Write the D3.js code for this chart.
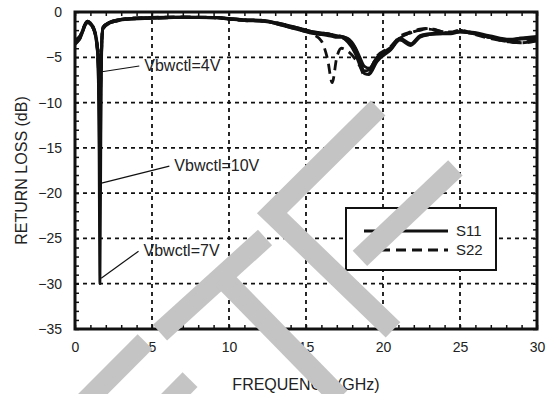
<!DOCTYPE html>
<html lang="en">
<head>
  <meta charset="utf-8">
  <title>Return loss vs frequency</title>
  <script src="https://d3js.org/d3.v7.min.js"></script>
  <style>
    body { margin: 0; background: #fff; }
    text { font-family: "Liberation Sans", Arial, sans-serif; fill: #222; }
  </style>
</head>
<body>
<div id="chart"></div>
<script>
  // frequency points (GHz) shared by every trace
  const freq = [0, 0.3, 0.8, 1.2, 1.45, 1.55, 1.62, 1.7, 1.8, 2.3, 2.7, 3.4, 5, 7, 9, 10, 11, 12, 12.7, 13.5,
    14.6, 15.5, 16, 16.4, 16.7, 17.0, 17.3, 17.7, 18.2, 18.5, 18.8, 19.1, 19.6, 20.5, 21.1, 21.8, 22.4, 23.0, 23.7,
    24.4, 25.0, 25.6, 26.9, 28.2, 28.9, 30];

  // return loss (dB)
  const s11_4V = [-3.1, -2.7, -1.0, -1.7, -3.6, -5.5, -7, -4.5, -1.7, -1.1, -0.9, -0.75, -0.6, -0.55, -0.6, -0.7, -0.85, -0.9, -1.05, -1.35,
    -1.8, -2.2, -2.3, -2.4, -2.5, -2.6, -2.7, -2.9, -3.9, -5.0, -6.0, -6.2, -5.0, -3.9, -2.9, -3.5, -2.6, -2.4, -2.3,
    -2.3, -2.2, -2.2, -2.6, -3.0, -2.9, -2.7];
  const s11_7V = [-3.3, -2.9, -1.1, -1.8, -4.0, -12, -30, -8, -1.8, -1.1, -0.9, -0.75, -0.65, -0.6, -0.6, -0.75, -0.9, -0.95, -1.1, -1.4,
    -1.9, -2.3, -2.4, -2.5, -2.6, -2.7, -2.7, -3.0, -4.3, -5.6, -6.5, -6.4, -5.2, -4.0, -3.0, -3.6, -2.7, -2.5, -2.4,
    -2.4, -2.2, -2.3, -2.7, -3.1, -2.9, -2.8];
  const s11_10V = [-3.5, -3.0, -1.2, -1.9, -4.3, -10, -19, -7, -1.9, -1.2, -1.0, -0.8, -0.7, -0.6, -0.65, -0.8, -0.95, -1.0, -1.15, -1.5,
    -2.0, -2.4, -2.5, -2.6, -2.7, -2.8, -2.8, -3.3, -4.6, -5.9, -6.8, -6.9, -5.5, -4.2, -3.1, -3.7, -2.8, -2.5, -2.4,
    -2.3, -2.2, -2.3, -2.8, -3.2, -3.0, -2.9];
  const s22_4V = [-3.2, -2.7, -1.0, -1.7, -3.6, -5, -6, -4, -1.7, -1.1, -0.9, -0.7, -0.6, -0.55, -0.6, -0.7, -0.85, -0.9, -1.05, -1.35,
    -1.8, -2.2, -2.3, -2.4, -2.5, -2.6, -2.7, -3.0, -4.0, -5.2, -6.2, -6.3, -4.9, -3.8, -2.7, -2.2, -1.9, -1.8, -2.1,
    -2.2, -2.0, -2.2, -2.8, -3.2, -3.3, -3.1];
  const s22_7V = [-3.4, -2.8, -1.1, -1.8, -4.0, -8, -12, -6, -1.8, -1.1, -0.9, -0.75, -0.65, -0.6, -0.6, -0.75, -0.9, -0.95, -1.1, -1.4,
    -1.9, -2.3, -2.4, -2.5, -2.6, -2.7, -2.8, -3.2, -4.4, -5.6, -6.6, -6.5, -5.0, -4.0, -2.8, -2.3, -2.0, -1.8, -2.1,
    -2.3, -2.1, -2.3, -2.8, -3.3, -3.4, -3.2];
  const s22_10V = [-3.6, -3.0, -1.2, -1.9, -4.2, -7, -10, -5.5, -1.9, -1.2, -1.0, -0.8, -0.7, -0.6, -0.65, -0.8, -0.95, -1.0, -1.15, -1.5,
    -2.0, -2.5, -3.2, -5.2, -7.8, -5.0, -4.0, -4.3, -5.2, -6.0, -7.0, -6.8, -5.3, -4.1, -2.9, -2.3, -2.0, -1.9, -2.2,
    -2.3, -2.0, -2.3, -2.9, -3.3, -3.4, -3.2];

  const xTicks = [0, 5, 10, 15, 20, 25, 30];
  const yTicks = [0, -5, -10, -15, -20, -25, -30, -35];
  const legendLabels = ["S11", "S22"];

  // voltage callouts: label anchor and the point on the dip it points to
  const callouts = [
    { text: "Vbwctl=4V", at: [4.5, -5.85], tip: [1.75, -6.6] },
    { text: "Vbwctl=10V", at: [6.45, -16.9], tip: [1.72, -18.9] },
    { text: "Vbwctl=7V", at: [4.45, -26.3], tip: [1.7, -29.4] }
  ];

  const traces = [
    { vals: s11_4V, type: "S11" }, { vals: s11_7V, type: "S11" }, { vals: s11_10V, type: "S11" },
    { vals: s22_4V, type: "S22" }, { vals: s22_7V, type: "S22" }, { vals: s22_10V, type: "S22" }
  ];

  const width = 547, height = 394;
  const margin = { top: 12, right: 10, bottom: 65, left: 75 };

  const svg = d3.select("#chart").append("svg")
    .attr("width", width)
    .attr("height", height);

  const x = d3.scaleLinear().domain([0, 30]).range([margin.left, width - margin.right]);
  const y = d3.scaleLinear().domain([-35, 0]).range([height - margin.bottom, margin.top]);

  // dashed grid
  svg.append("g").selectAll("line")
    .data(xTicks.slice(1, -1))
    .join("line")
    .attr("x1", d => x(d)).attr("x2", d => x(d))
    .attr("y1", y(0)).attr("y2", y(-35))
    .attr("stroke", "#111").attr("stroke-width", 1.8).attr("stroke-dasharray", "4,4");
  svg.append("g").selectAll("line")
    .data(yTicks.slice(1, -1))
    .join("line")
    .attr("x1", x(0)).attr("x2", x(30))
    .attr("y1", d => y(d)).attr("y2", d => y(d))
    .attr("stroke", "#111").attr("stroke-width", 1.8).attr("stroke-dasharray", "4,4");

  // minor ticks on all four sides, pointing inward
  const minor = (axis, sel) => sel.call(axis.tickFormat("").tickSizeOuter(0))
    .call(g => g.select(".domain").remove())
    .call(g => g.selectAll("line").attr("stroke", "#111").attr("stroke-width", 1.5));
  minor(d3.axisBottom(x).tickValues(d3.range(0, 31, 1)).tickSizeInner(-4),
    svg.append("g").attr("transform", `translate(0,${y(-35)})`));
  minor(d3.axisTop(x).tickValues(d3.range(0, 31, 1)).tickSizeInner(-4),
    svg.append("g").attr("transform", `translate(0,${y(0)})`));
  minor(d3.axisLeft(y).tickValues(d3.range(-35, 1, 1)).tickSizeInner(-4),
    svg.append("g").attr("transform", `translate(${x(0)},0)`));
  minor(d3.axisRight(y).tickValues(d3.range(-35, 1, 1)).tickSizeInner(-4),
    svg.append("g").attr("transform", `translate(${x(30)},0)`));

  // tick labels
  const xAxis = svg.append("g")
    .attr("transform", `translate(0,${y(-35)})`)
    .call(d3.axisBottom(x).tickValues(xTicks).tickSize(0).tickPadding(13));
  xAxis.select(".domain").remove();
  xAxis.selectAll("text").style("font-size", "14px").attr("fill", "#222");

  const yAxis = svg.append("g")
    .attr("transform", `translate(${x(0)},0)`)
    .call(d3.axisLeft(y).tickValues(yTicks).tickSize(0).tickPadding(13));
  yAxis.select(".domain").remove();
  yAxis.selectAll("text").style("font-size", "14px").attr("fill", "#222");

  // traces
  svg.append("clipPath").attr("id", "plot")
    .append("rect")
    .attr("x", x(0)).attr("y", y(0))
    .attr("width", x(30) - x(0)).attr("height", y(-35) - y(0));

  const line = d3.line()
    .x((d, i) => x(freq[i]))
    .y(d => y(d))
    .curve(d3.curveMonotoneX);

  svg.append("g").attr("clip-path", "url(#plot)")
    .selectAll("path")
    .data(traces)
    .join("path")
    .attr("d", d => line(d.vals))
    .attr("fill", "none")
    .attr("stroke", "#111")
    .attr("stroke-width", 2.8)
    .attr("stroke-linejoin", "round")
    .attr("stroke-dasharray", d => d.type === "S22" ? "10,6" : null);

  // frame
  svg.append("rect")
    .attr("x", x(0)).attr("y", y(0))
    .attr("width", x(30) - x(0)).attr("height", y(-35) - y(0))
    .attr("fill", "none").attr("stroke", "#111").attr("stroke-width", 3);

  // callouts
  callouts.forEach(c => {
    svg.append("line")
      .attr("x1", x(c.at[0]) - 5).attr("y1", y(c.at[1]) + 1)
      .attr("x2", x(c.tip[0])).attr("y2", y(c.tip[1]))
      .attr("stroke", "#111").attr("stroke-width", 1.2);
    svg.append("text")
      .attr("x", x(c.at[0])).attr("y", y(c.at[1]))
      .attr("dy", "0.35em")
      .style("font-size", "16px")
      .text(c.text);
  });

  // legend
  const legend = svg.append("g");
  legend.append("rect")
    .attr("x", 346).attr("y", 208)
    .attr("width", 150).attr("height", 62)
    .attr("fill", "#fff").attr("stroke", "#111").attr("stroke-width", 2);
  legendLabels.forEach((lab, i) => {
    legend.append("line")
      .attr("x1", 364).attr("x2", 448)
      .attr("y1", 231 + i * 19).attr("y2", 231 + i * 19)
      .attr("stroke", "#111").attr("stroke-width", 3)
      .attr("stroke-dasharray", lab === "S22" ? "10,6" : null);
    legend.append("text")
      .attr("x", 456).attr("y", 231 + i * 19)
      .attr("dy", "0.35em")
      .style("font-size", "15px")
      .text(lab);
  });

  // axis titles
  svg.append("text")
    .attr("x", (x(0) + x(30)) / 2).attr("y", 384)
    .attr("text-anchor", "middle").attr("dy", "0.35em")
    .style("font-size", "16px")
    .text("FREQUENCY (GHz)");
  svg.append("text")
    .attr("transform", `translate(21,${(y(0) + y(-35)) / 2}) rotate(-90)`)
    .attr("text-anchor", "middle").attr("dy", "0.35em")
    .style("font-size", "16px")
    .text("RETURN LOSS (dB)");

  // grey scan watermark, laid over the figure (in GHz / dB units)
  const watermark = [
    [[0.65, -43.05], [4.55, -36.4]],
    [[6.04, -43.05], [7.47, -40.6]],
    [[5.52, -35.4], [12.34, -24.9]],
    [[9.55, -29.3], [17.2, -42.6]],
    [[19.68, -10.6], [12.79, -22.2], [20.65, -35.1]],
    [[24.7, -17.2], [18.5, -27.2]]
  ];
  svg.append("g").selectAll("path")
    .data(watermark)
    .join("path")
    .attr("d", d => d3.line().x(p => x(p[0])).y(p => y(p[1]))(d))
    .attr("fill", "none")
    .attr("stroke", "#c4c4c4")
    .attr("stroke-width", 21)
    .attr("stroke-linejoin", "miter");
</script>
</body>
</html>
